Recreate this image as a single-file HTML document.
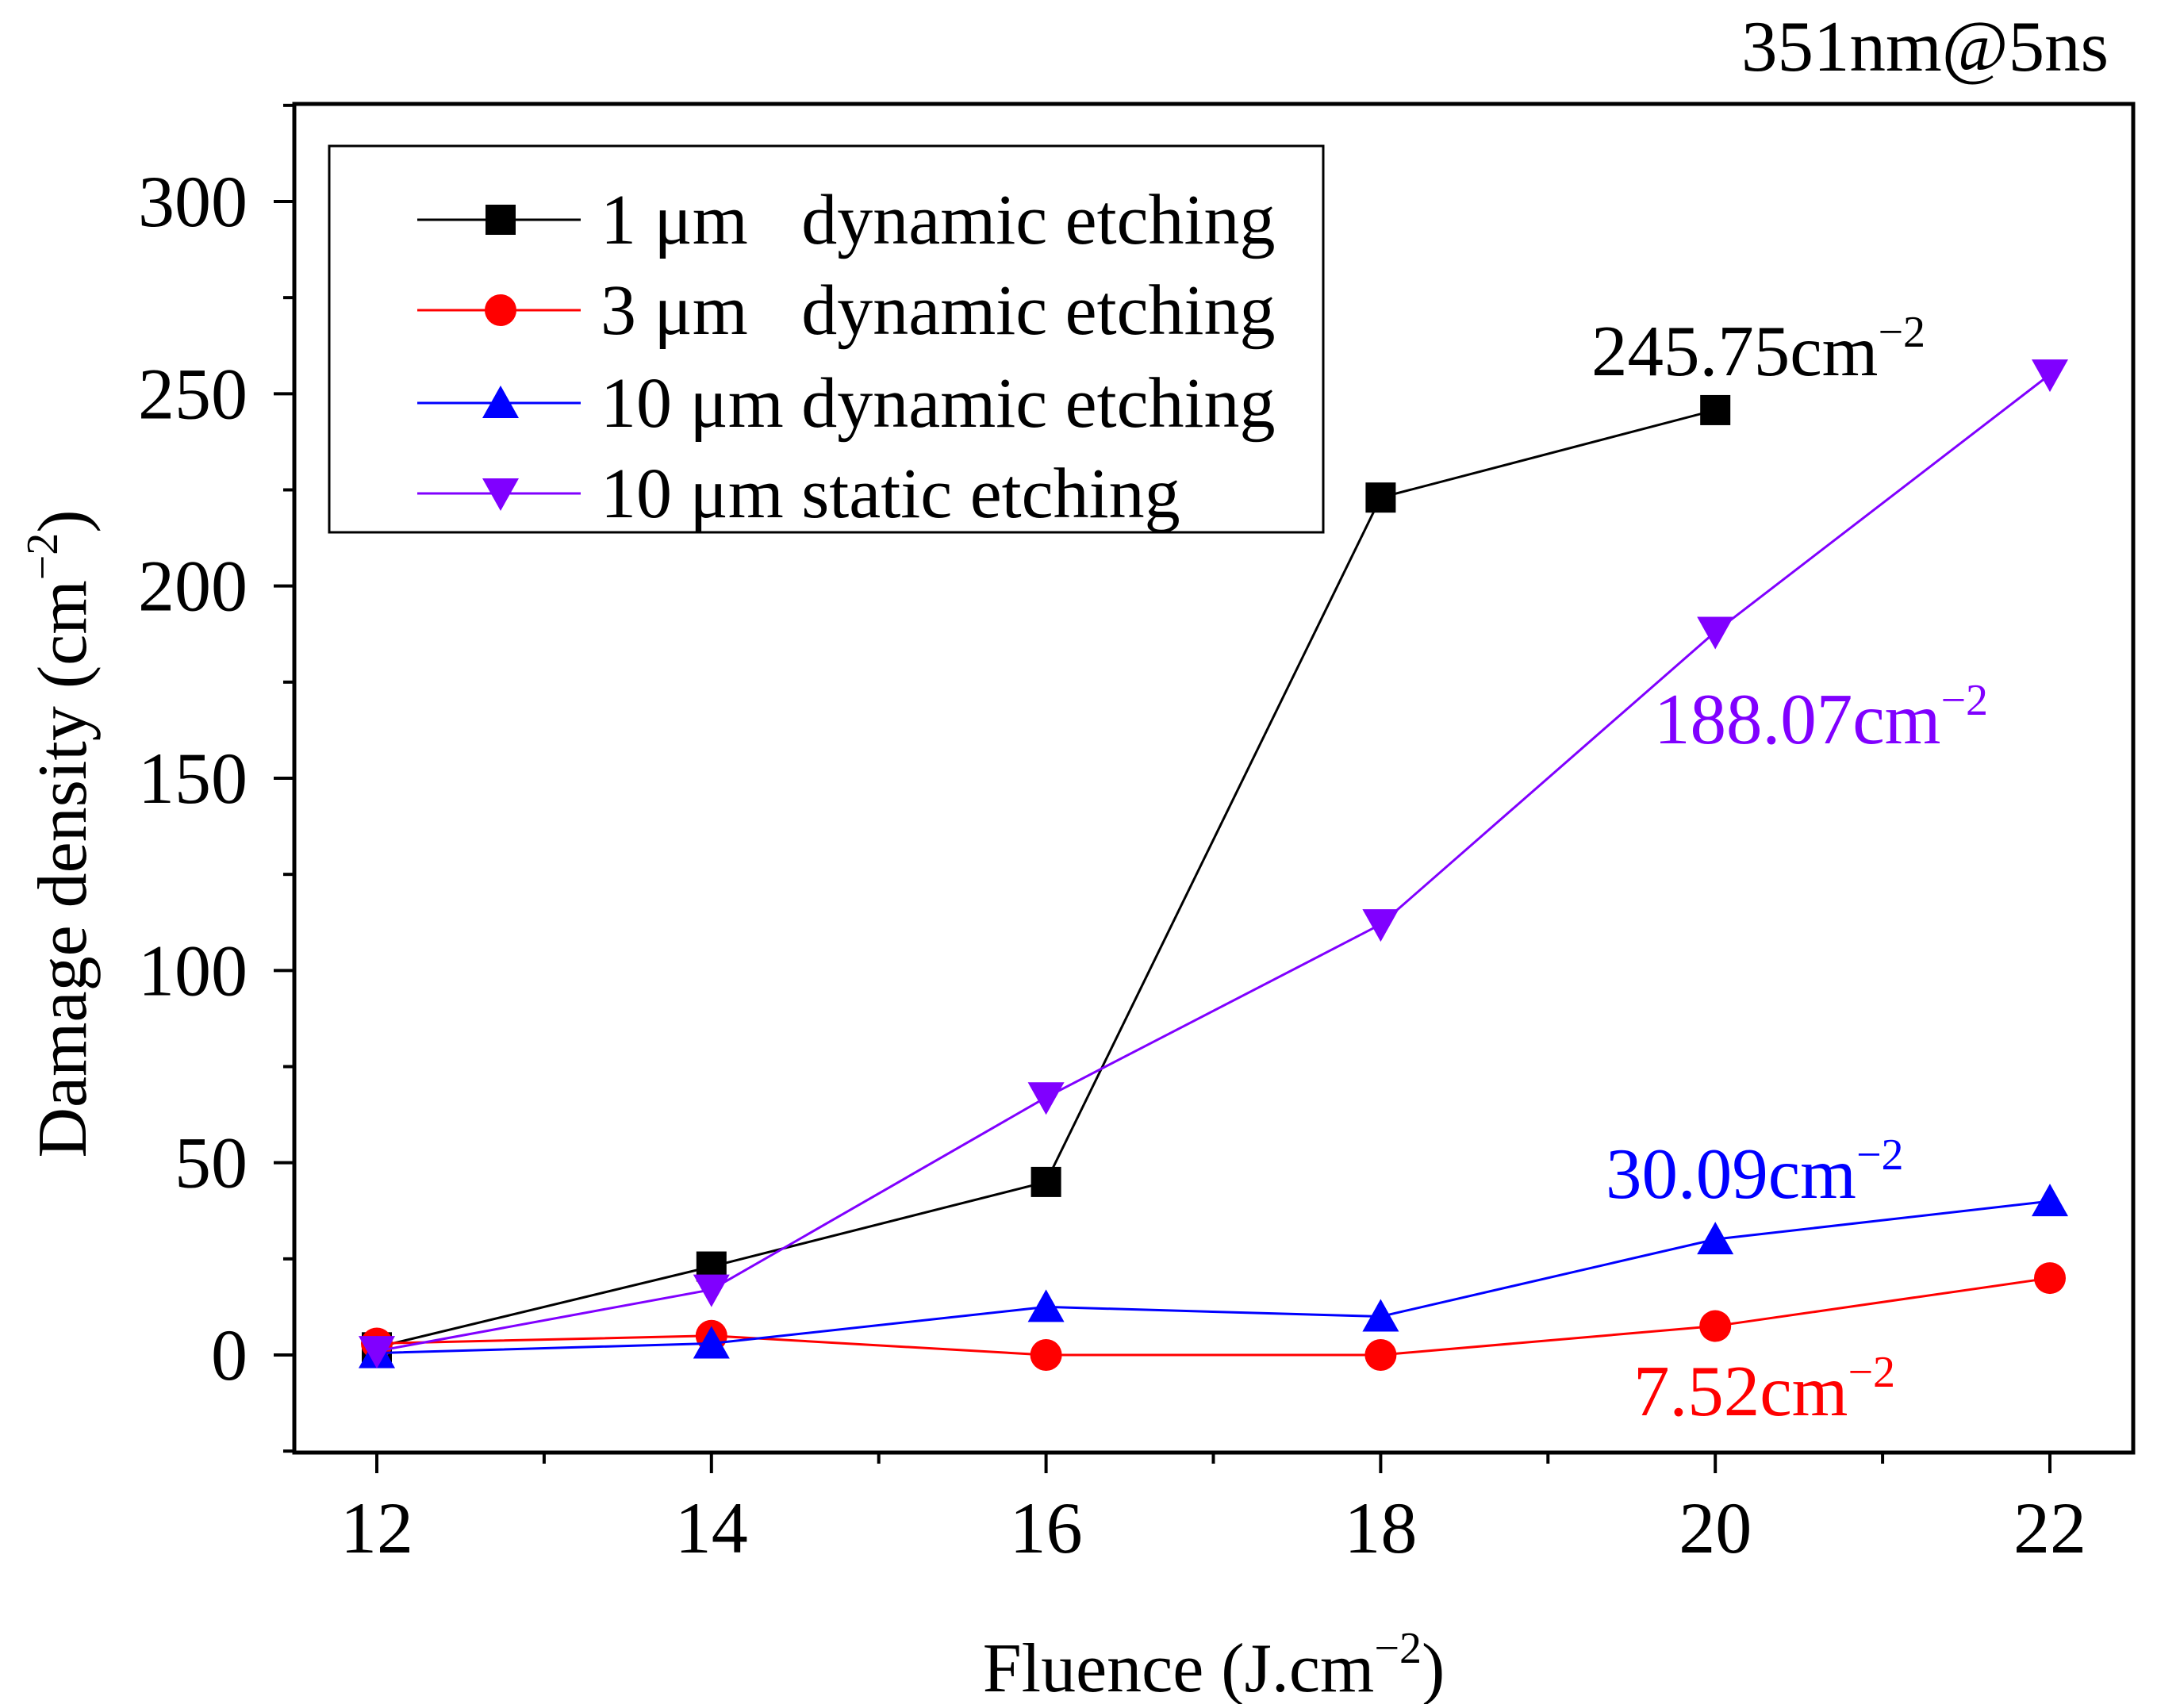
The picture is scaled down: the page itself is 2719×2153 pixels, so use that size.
<!DOCTYPE html>
<html><head><meta charset="utf-8"><style>
body{margin:0;background:#fff}
svg text{font-family:"Liberation Serif",serif;white-space:pre}
</style></head><body>
<svg id="chart" width="2719" height="2148" viewBox="0 0 2719 2148" xmlns="http://www.w3.org/2000/svg">
<rect width="2719" height="2148" fill="#fff"/>
<g id="marks"></g>
<g id="axes"></g>
<text x="2658" y="89" font-size="91" text-anchor="end">351nm@5ns</text>
<text x="1530" y="2132" font-size="88" text-anchor="middle">Fluence (J.cm<tspan dy="-36" font-size="56">−2</tspan><tspan dy="36">)</tspan></text>
<text transform="translate(108,1051) rotate(-90)" font-size="88" text-anchor="middle">Damage density (cm<tspan dy="-36" font-size="56">−2</tspan><tspan dy="36">)</tspan></text>
<text x="2006" y="473" font-size="91" fill="#000">245.75cm<tspan dy="-36" font-size="56">−2</tspan></text>
<text x="2085" y="937" font-size="91" fill="#8000ff">188.07cm<tspan dy="-36" font-size="56">−2</tspan></text>
<text x="2024" y="1510" font-size="91" fill="#0000ff">30.09cm<tspan dy="-36" font-size="56">−2</tspan></text>
<text x="2059" y="1784" font-size="91" fill="#ff0000">7.52cm<tspan dy="-36" font-size="56">−2</tspan></text>
<g id="legend"></g>
</svg>
<script>
const xCats=[12,14,16,18,20,22];
const black=[2,23,45,223,245.75,null];
const red=[3,5,0,0,7.52,20];
const blue=[0.5,3,12.5,10,30.09,40];
const purple=[1,17,67,112,188.07,255];
const yTicks=[0,50,100,150,200,250,300];
const xTicks=[12,14,16,18,20,22];
const seriesNames=["1 μm   dynamic etching","3 μm   dynamic etching","10 μm dynamic etching","10 μm static etching"];

const L=371,R=2689,T=131,B=1831;
const X=v=>475+(v-12)*(2584-475)/10;
const Y=v=>1708-v*(1708-254)/300;
const NS="http://www.w3.org/2000/svg";
function mk(t,a,p){const e=document.createElementNS(NS,t);for(const k in a)e.setAttribute(k,a[k]);p.appendChild(e);return e;}
const marks=document.getElementById('marks'),axes=document.getElementById('axes'),leg=document.getElementById('legend');

function marker(kind,cx,cy,col,p){
  const s=19;let e;
  if(kind==='sq')e=mk('rect',{x:cx-s,y:cy-s,width:2*s,height:2*s,fill:col},p);
  else if(kind==='ci')e=mk('circle',{cx:cx,cy:cy,r:s+1,fill:col},p);
  else if(kind==='up')e=mk('polygon',{points:`${cx},${cy-s-3} ${cx+s+4},${cy+s} ${cx-s-4},${cy+s}`,fill:col},p);
  else e=mk('polygon',{points:`${cx},${cy+s+3} ${cx+s+4},${cy-s} ${cx-s-4},${cy-s}`,fill:col},p);
  return e;
}
const series=[[black,'#000','sq','black'],[red,'#ff0000','ci','red'],[blue,'#0000ff','up','blue'],[purple,'#8000ff','dn','purple']];
series.forEach(([d,col,k,nm])=>{
  const pts=[];d.forEach((v,i)=>{if(v!==null)pts.push([X(xCats[i]),Y(v)]);});
  const pl=mk('polyline',{points:pts.map(p=>p.join(',')).join(' '),fill:'none',stroke:col,'stroke-width':3},marks);
  
  
  pts.forEach(p=>{const m=marker(k,p[0],p[1],col,marks);
    
    });
});
const fr=mk('rect',{x:L,y:T,width:R-L,height:B-T,fill:'none',stroke:'#000','stroke-width':5},axes);


yTicks.forEach(v=>{
  mk('line',{x1:L-26,x2:L,y1:Y(v),y2:Y(v),stroke:'#000','stroke-width':4},axes);
  const t=mk('text',{x:312,y:Y(v)+31,'font-size':92,'text-anchor':'end'},axes);t.textContent=v;
  
  
});
for(let v=-25;v<=325;v+=25){if(v%50!==0){mk('line',{x1:L-14,x2:L,y1:Y(v),y2:Y(v),stroke:'#000','stroke-width':4},axes);}}
xTicks.forEach(v=>{
  mk('line',{x1:X(v),x2:X(v),y1:B,y2:B+26,stroke:'#000','stroke-width':4},axes);
  const t=mk('text',{x:X(v),y:1957,'font-size':92,'text-anchor':'middle'},axes);t.textContent=v;
  
  
});
for(let v=13;v<=21;v+=2)mk('line',{x1:X(v),x2:X(v),y1:B,y2:B+14,stroke:'#000','stroke-width':4},axes);
mk('rect',{x:415,y:184,width:1253,height:487,fill:'#fff',stroke:'#000','stroke-width':3},leg);
const rows=[277,391,508,622];
series.forEach(([d,col,k,nm],i)=>{
  mk('line',{x1:526,x2:732,y1:rows[i],y2:rows[i],stroke:col,'stroke-width':3},leg);
  marker(k,631,rows[i],col,leg);
  const t=mk('text',{x:757,y:rows[i]+30,'font-size':90},leg);
  t.textContent=seriesNames[i];
  
  
});
</script>
</body></html>
